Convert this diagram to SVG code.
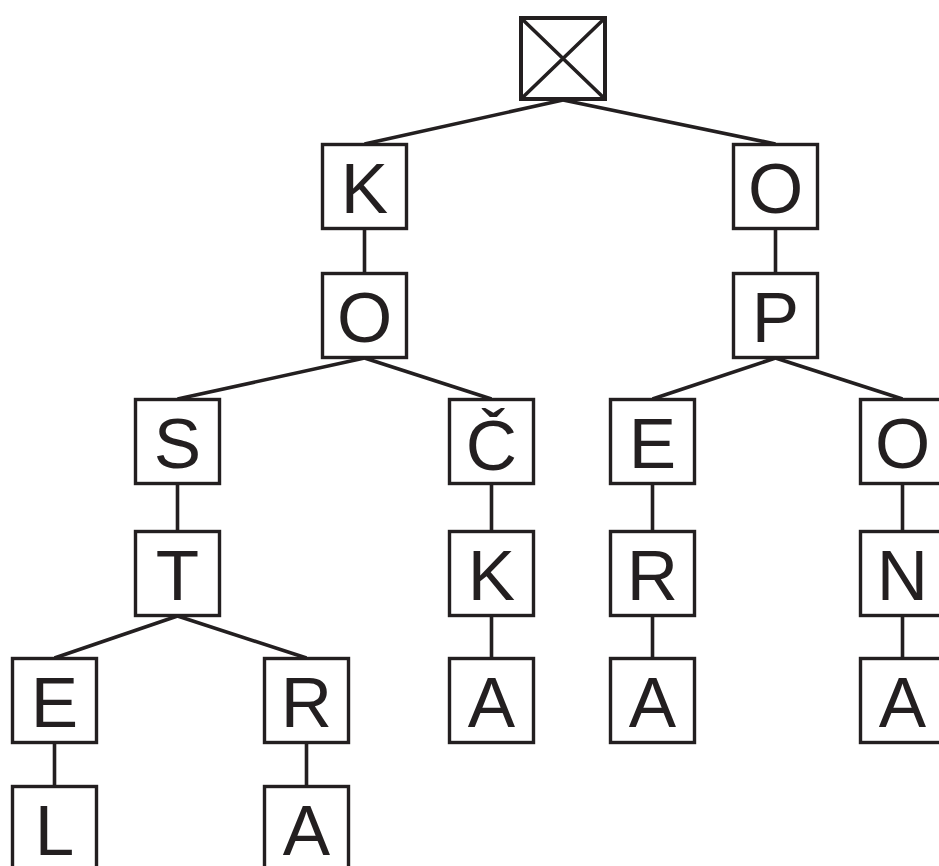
<svg xmlns="http://www.w3.org/2000/svg" width="939" height="866" viewBox="0 0 939 866">
<style>
.bx{fill:#fff;stroke:#231f20;stroke-width:3.4}
.rt{fill:#fff;stroke:#231f20;stroke-width:4}
.ln{stroke:#231f20;stroke-width:3.6;fill:none}
.tx{font-family:"Liberation Sans",Arial,sans-serif;font-size:71px;fill:#231f20;text-anchor:middle}
</style>
<rect width="939" height="866" fill="#fff"/>
<g id="connectors" class="ln">
<line x1="563" y1="100" x2="364.5" y2="144"/>
<line x1="563" y1="100" x2="775.5" y2="144"/>
<line x1="364.5" y1="229" x2="364.5" y2="273"/>
<line x1="364.5" y1="358" x2="177.5" y2="399"/>
<line x1="364.5" y1="358" x2="491.5" y2="399"/>
<line x1="177.5" y1="484" x2="177.5" y2="531"/>
<line x1="177.5" y1="616" x2="54.5" y2="658"/>
<line x1="177.5" y1="616" x2="306.5" y2="658"/>
<line x1="54.5" y1="743" x2="54.5" y2="786"/>
<line x1="306.5" y1="743" x2="306.5" y2="786"/>
<line x1="491.5" y1="484" x2="491.5" y2="531"/>
<line x1="491.5" y1="616" x2="491.5" y2="658"/>
<line x1="775.5" y1="229" x2="775.5" y2="273"/>
<line x1="775.5" y1="358" x2="652.5" y2="399"/>
<line x1="775.5" y1="358" x2="902.5" y2="399"/>
<line x1="652.5" y1="484" x2="652.5" y2="531"/>
<line x1="652.5" y1="616" x2="652.5" y2="658"/>
<line x1="902.5" y1="484" x2="902.5" y2="531"/>
<line x1="902.5" y1="616" x2="902.5" y2="658"/>
</g>
<g id="root"><rect class="rt" x="521" y="18" width="84" height="81"/><path class="ln" d="M521 18L605 99M605 18L521 99"/></g>
<g id="k1"><rect class="bx" x="322.5" y="144.5" width="84" height="84"/><text class="tx" x="364.5" y="212.5">K</text></g>
<g id="o1"><rect class="bx" x="322.5" y="273.5" width="84" height="84"/><text class="tx" x="364.5" y="341.5">O</text></g>
<g id="s"><rect class="bx" x="135.5" y="399.5" width="84" height="84"/><text class="tx" x="177.5" y="467.5">S</text></g>
<g id="c"><rect class="bx" x="449.5" y="399.5" width="84" height="84"/><text class="tx" x="491.5" y="469.5">Č</text></g>
<g id="t"><rect class="bx" x="135.5" y="531.5" width="84" height="84"/><text class="tx" x="177.5" y="599.5">T</text></g>
<g id="k2"><rect class="bx" x="449.5" y="531.5" width="84" height="84"/><text class="tx" x="491.5" y="599.5">K</text></g>
<g id="e1"><rect class="bx" x="12.5" y="658.5" width="84" height="84"/><text class="tx" x="54.5" y="726.5">E</text></g>
<g id="r1"><rect class="bx" x="264.5" y="658.5" width="84" height="84"/><text class="tx" x="306.5" y="726.5">R</text></g>
<g id="a1"><rect class="bx" x="449.5" y="658.5" width="84" height="84"/><text class="tx" x="491.5" y="726.5">A</text></g>
<g id="l"><rect class="bx" x="12.5" y="786.5" width="84" height="84"/><text class="tx" x="54.5" y="854.5">L</text></g>
<g id="a2"><rect class="bx" x="264.5" y="786.5" width="84" height="84"/><text class="tx" x="306.5" y="854.5">A</text></g>
<g id="o2"><rect class="bx" x="733.5" y="144.5" width="84" height="84"/><text class="tx" x="775.5" y="212.5">O</text></g>
<g id="p"><rect class="bx" x="733.5" y="273.5" width="84" height="84"/><text class="tx" x="775.5" y="341.5">P</text></g>
<g id="e2"><rect class="bx" x="610.5" y="399.5" width="84" height="84"/><text class="tx" x="652.5" y="467.5">E</text></g>
<g id="o3"><rect class="bx" x="860.5" y="399.5" width="84" height="84"/><text class="tx" x="902.5" y="467.5">O</text></g>
<g id="r2"><rect class="bx" x="610.5" y="531.5" width="84" height="84"/><text class="tx" x="652.5" y="599.5">R</text></g>
<g id="n"><rect class="bx" x="860.5" y="531.5" width="84" height="84"/><text class="tx" x="902.5" y="599.5">N</text></g>
<g id="a3"><rect class="bx" x="610.5" y="658.5" width="84" height="84"/><text class="tx" x="652.5" y="726.5">A</text></g>
<g id="a4"><rect class="bx" x="860.5" y="658.5" width="84" height="84"/><text class="tx" x="902.5" y="726.5">A</text></g>
</svg>
